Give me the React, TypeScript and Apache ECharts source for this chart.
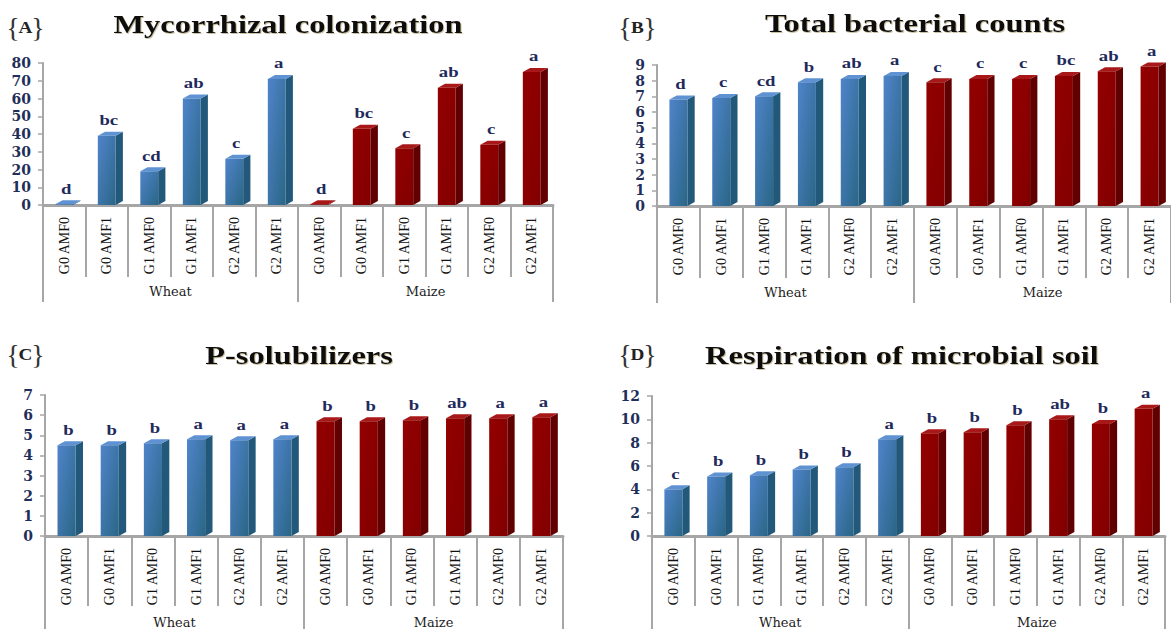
import React, { useEffect, useRef } from "react";
import * as echarts from "echarts";

const treatments = ["G0 AMF0", "G0 AMF1", "G1 AMF0", "G1 AMF1", "G2 AMF0", "G2 AMF1"];
const crops = ["Wheat", "Maize"];
const categories = [...treatments, ...treatments];

const mycorrhizal = [0.4, 39, 19, 60, 26, 71, 0.4, 43, 32, 66, 34, 75];
const mycorrhizalLetters = ["d", "bc", "cd", "ab", "c", "a", "d", "bc", "c", "ab", "c", "a"];

const bacterial = [6.8, 6.9, 7.0, 7.9, 8.1, 8.3, 7.9, 8.1, 8.1, 8.3, 8.6, 8.9];
const bacterialLetters = ["d", "c", "cd", "b", "ab", "a", "c", "c", "c", "bc", "ab", "a"];

const pSolubilizers = [4.5, 4.5, 4.6, 4.8, 4.75, 4.8, 5.7, 5.7, 5.75, 5.85, 5.85, 5.9];
const pSolubilizersLetters = ["b", "b", "b", "a", "a", "a", "b", "b", "b", "ab", "a", "a"];

const respiration = [4.0, 5.1, 5.2, 5.7, 5.9, 8.3, 8.8, 8.9, 9.5, 10.0, 9.6, 10.9];
const respirationLetters = ["c", "b", "b", "b", "b", "a", "b", "b", "b", "ab", "b", "a"];

const titles = ["Mycorrhizal colonization", "Total bacterial counts", "P-solubilizers", "Respiration of microbial soil"];
const panelTags = ["A", "B", "C", "D"];
const yMax = [80, 9, 7, 12];
const yInterval = [10, 1, 1, 2];

const panels = [
  { values: mycorrhizal, letters: mycorrhizalLetters, grid: { left: 43, top: 63, width: 510, height: 142 }, tickLen: 72, groupLen: 97, title: [288, 24], tag: [8, 27] },
  { values: bacterial, letters: bacterialLetters, grid: { left: 657, top: 65, width: 516, height: 141 }, tickLen: 72, groupLen: 97, title: [915, 23], tag: [620, 27] },
  { values: pSolubilizers, letters: pSolubilizersLetters, grid: { left: 45, top: 395, width: 518, height: 142 }, tickLen: 70, groupLen: 95, title: [299, 355], tag: [8, 354] },
  { values: respiration, letters: respirationLetters, grid: { left: 652, top: 396, width: 513, height: 141 }, tickLen: 70, groupLen: 95, title: [902, 355], tag: [620, 354] },
];

const SERIF = '"Liberation Serif", "Times New Roman", serif';
const AXIS_GREY = "#A6A6A6";

function makeRender(letters: string[]) {
  return (params: any, api: any) => {
    const i = params.dataIndex;
    const top = api.coord([api.value(0), api.value(1)]);
    const base = api.coord([api.value(0), 0]);
    const bw = api.size([1, 0])[0];
    const fw = bw * 0.42;
    const dx = bw * 0.17;
    const dy = 4;
    const x0 = top[0] - fw / 2;
    const x1 = top[0] + fw / 2;
    const wheat = i < 6;
    const front = wheat
      ? new echarts.graphic.LinearGradient(0, 0, 1, 1, [
          { offset: 0, color: "#4F84CA" },
          { offset: 1, color: "#2A6686" },
        ])
      : new echarts.graphic.LinearGradient(0, 0, 1, 1, [
          { offset: 0, color: "#930000" },
          { offset: 1, color: "#820000" },
        ]);
    const side = wheat ? "#22587A" : "#600000";
    const topc = wheat ? "#5E92D2" : "#A81818";
    return {
      type: "group",
      children: [
        {
          type: "polygon",
          shape: { points: [[x1, top[1]], [x1 + dx, top[1] - dy], [x1 + dx, base[1] - dy], [x1, base[1]]] },
          style: { fill: side },
        },
        {
          type: "polygon",
          shape: { points: [[x0, top[1]], [x0 + dx, top[1] - dy], [x1 + dx, top[1] - dy], [x1, top[1]]] },
          style: { fill: topc },
        },
        {
          type: "rect",
          shape: { x: x0, y: top[1], width: fw, height: Math.max(base[1] - top[1], 0.5) },
          style: { fill: front },
        },
        {
          type: "text",
          x: top[0] + 2,
          y: top[1] - dy - 4,
          scaleX: 1.25,
          style: {
            text: letters[i],
            font: `bold 15px ${SERIF}`,
            fill: "#1F2A5C",
            align: "center",
            verticalAlign: "bottom",
            textAlign: "center",
            textVerticalAlign: "bottom",
          },
        },
      ],
    };
  };
}

export default function App() {
  const ref = useRef<HTMLDivElement>(null);
  useEffect(() => {
    document.body.style.margin = "0";
    document.body.style.overflow = "hidden";
    const chart = echarts.init(ref.current!, null, { renderer: "svg" });

    const grid: any[] = [];
    const xAxis: any[] = [];
    const yAxis: any[] = [];
    const series: any[] = [];
    const graphic: any[] = [];

    panels.forEach((p, k) => {
      grid.push({ ...p.grid, containLabel: false });
      xAxis.push({
        type: "category",
        gridIndex: k,
        data: categories,
        position: "bottom",
        axisLine: { show: true, lineStyle: { color: AXIS_GREY, width: 3 } },
        axisTick: { show: true, interval: 0, length: p.tickLen, lineStyle: { color: AXIS_GREY, width: 2 } },
        axisLabel: { interval: 0, rotate: 90, margin: 12, fontFamily: SERIF, fontSize: 14, color: "#111" },
        splitLine: { show: false },
      });
      xAxis.push({
        type: "category",
        gridIndex: k,
        data: crops,
        position: "bottom",
        axisLine: { show: false },
        axisTick: { show: true, interval: 0, length: p.groupLen, lineStyle: { color: AXIS_GREY, width: 2 } },
        axisLabel: { interval: 0, margin: 80, fontFamily: '"DejaVu Serif", serif', fontSize: 13, color: "#222" },
        splitLine: { show: false },
      });
      yAxis.push({
        type: "value",
        gridIndex: k,
        min: 0,
        max: yMax[k],
        interval: yInterval[k],
        axisLine: { show: true, lineStyle: { color: AXIS_GREY, width: 2 } },
        axisTick: { show: true, length: 5, lineStyle: { color: AXIS_GREY, width: 1.5 } },
        axisLabel: { margin: 12, fontFamily: '"DejaVu Serif", serif', fontWeight: "bold", fontSize: 14, color: "#1F2F5A" },
        splitLine: { show: false },
      });
      series.push({
        type: "custom",
        xAxisIndex: 2 * k,
        yAxisIndex: k,
        clip: false,
        encode: { x: 0, y: 1 },
        data: p.values.map((v, i) => [i, v]),
        renderItem: makeRender(p.letters),
      });
      graphic.push({
        type: "text",
        x: p.title[0],
        y: p.title[1],
        scaleX: 1.25,
        style: {
          text: titles[k],
          font: `bold 26px ${SERIF}`,
          fill: "#111",
          align: "center",
          verticalAlign: "middle",
          textAlign: "center",
          textVerticalAlign: "middle",
          textShadowColor: "rgba(140,120,60,0.45)",
          textShadowOffsetX: 1,
          textShadowOffsetY: 1,
          textShadowBlur: 1,
        },
      });
      const [tx, ty] = p.tag;
      graphic.push({
        type: "text",
        x: tx + 5,
        y: ty,
        style: { text: "{", font: `28px ${SERIF}`, fill: "#333", align: "center", verticalAlign: "middle", textAlign: "center", textVerticalAlign: "middle" },
      });
      graphic.push({
        type: "text",
        x: tx + 17.5,
        y: ty + 1,
        scaleX: 1.2,
        style: { text: panelTags[k], font: `bold 16px ${SERIF}`, fill: "#222", align: "center", verticalAlign: "middle", textAlign: "center", textVerticalAlign: "middle" },
      });
      graphic.push({
        type: "text",
        x: tx + 30,
        y: ty,
        style: { text: "}", font: `28px ${SERIF}`, fill: "#333", align: "center", verticalAlign: "middle", textAlign: "center", textVerticalAlign: "middle" },
      });
    });

    chart.setOption({
      animation: false,
      backgroundColor: "#fff",
      grid,
      xAxis,
      yAxis,
      series,
      graphic,
    });
    return () => chart.dispose();
  }, []);
  return <div ref={ref} style={{ width: 1171, height: 629 }} />;
}
